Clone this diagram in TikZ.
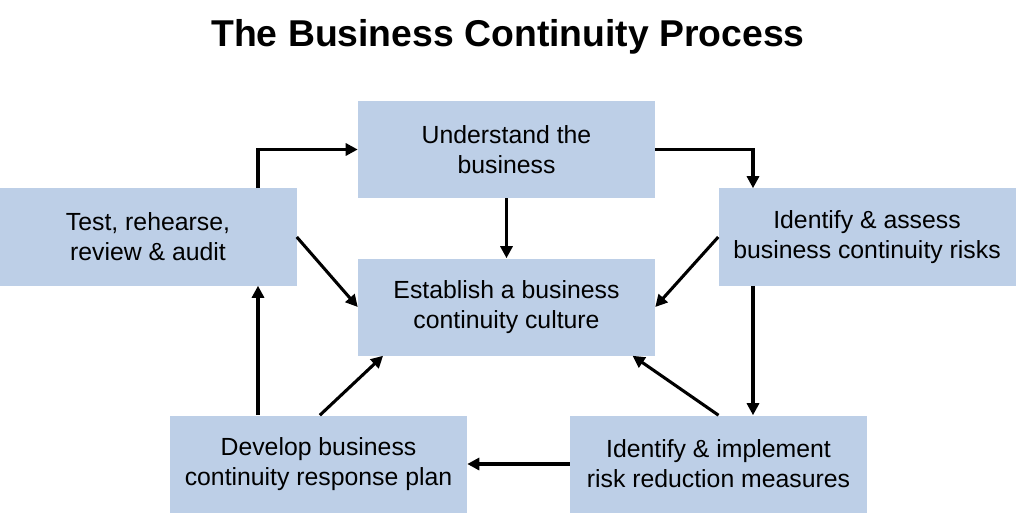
\documentclass[tikz,border=0pt]{standalone}
\usepackage{fontspec}
\setmainfont{Liberation Sans}
\usetikzlibrary{arrows.meta}
\definecolor{boxblue}{HTML}{BDCFE7}

\tikzstyle{stage}=[rectangle,fill=boxblue,minimum width=222.75pt,minimum height=72.75pt,inner sep=0pt,align=center,font=\fontsize{18.6}{22.6}\selectfont]
\tikzstyle{flow} = [draw,line width=2.3pt,-{Triangle[length=9pt,width=9pt]}]

\begin{document}
\begin{tikzpicture}[x=0.75pt,y=-0.75pt]
			\useasboundingbox (0,0) rectangle (1016,513);
			\node[font=\fontsize{28}{34}\selectfont\bfseries] (title) at (508,37) {The Business Continuity Process};
			\node[stage] (und) at (506.5,149.5) {Understand the\\business};
			\node[stage] (test) at (148,237) {Test, rehearse,\\review \& audit};
			\node[stage] (assess) at (867,237) {Identify \& assess\\business continuity risks};
			\node[stage] (cult) at (506.5,307) {Establish a business\\continuity culture};
			\node[stage] (dev) at (318.5,464) {Develop business\\continuity response plan};
			\node[stage] (impl) at (718.5,464) {Identify \& implement\\risk reduction measures};
			% columns for the outer loop
			\coordinate (lcol) at (258,0);
			\coordinate (rcol) at (753,0);
			% outer loop
			\path[flow] (lcol |- test.north) |- (und.west);
			\path[flow] (und.east) -| (rcol |- assess.north);
			\path[flow] (rcol |- assess.south) -- (rcol |- impl.north);
			\path[flow] (impl.west) -- (dev.east);
			\path[flow] (lcol |- dev.north) -- (lcol |- test.south);
			% into the culture box
			\foreach \source/ \dest in {und.south/cult.north, test.east/cult.west, assess.west/cult.east}
				\path[flow] (\source) -- (\dest);
			\path[flow] (impl.north) -- ([xshift=-17pt]cult.south east);
			\path[flow] ([xshift=1pt]dev.north) -- ([xshift=19pt]cult.south west);
		\end{tikzpicture}
\end{document}
